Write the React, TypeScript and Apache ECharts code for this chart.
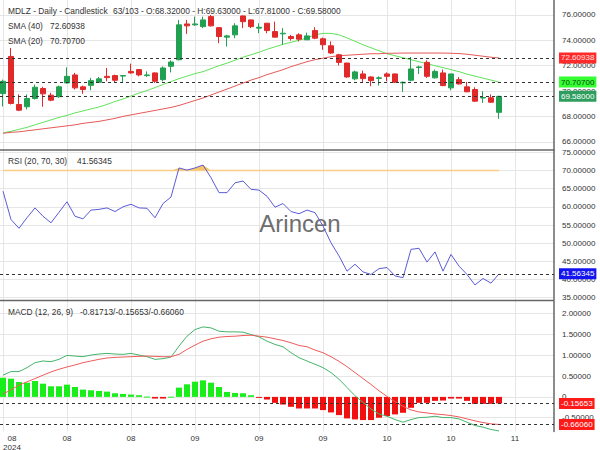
import { useEffect, useRef } from 'react';
import * as echarts from 'echarts';

const FONT = '"Liberation Sans", Arial, Helvetica, sans-serif';

const symbol = 'MDLZ';
const visibleCount = 63;
const totalCount = 103;
const xTickPositions = [0, 8, 16, 24, 32, 40, 48, 56, 64];
const xTickLabels = ['08\n2024', '08', '08', '09', '09', '09', '10', '10', '11'];
const priceTicks = [66, 68, 70, 72, 74, 76];
const rsiTicks = [35, 40, 45, 50, 55, 60, 65, 70, 75];
const macdTicks = [-0.5, 0, 0.5, 1, 1.5, 2];

// [open, high, low, close]
const ohlc: [number, number, number, number][] = [
  [69.8, 70.9, 68.78, 70.77], [72.73, 73.39, 68.94, 69.02], [68.94, 69.73, 68.42, 68.49], [68.76, 69.73, 68.55, 69.41],
  [69.41, 70.51, 69.33, 70.3], [70.2, 70.33, 68.76, 69.78], [69.67, 69.86, 69.2, 69.28], [69.55, 70.43, 69.47, 70.33],
  [70.64, 71.87, 70.59, 71.16], [71.27, 71.43, 70.12, 70.25], [70.33, 70.43, 69.78, 70.12], [70.45, 71.04, 70.06, 70.82],
  [70.69, 71.11, 70.64, 70.96], [71.16, 71.82, 70.77, 71.06], [71.22, 71.29, 70.64, 70.85], [71.18, 71.22, 70.69, 71.22],
  [71.55, 72.16, 71.37, 71.43], [71.69, 71.74, 71.16, 71.27], [71.22, 71.55, 71.11, 71.27], [71.43, 71.47, 70.64, 70.77],
  [70.9, 71.95, 70.77, 71.82], [71.95, 72.42, 71.47, 72.29], [72.47, 75.61, 72.42, 75.22], [75.29, 75.61, 74.51, 75.14],
  [75.22, 75.87, 75.14, 75.29], [75.08, 75.87, 74.96, 75.61], [75.87, 76.0, 75.08, 75.14], [75.0, 75.05, 73.78, 74.3],
  [74.25, 74.43, 73.51, 74.35], [74.43, 75.35, 74.17, 75.14], [75.92, 75.95, 74.96, 75.47], [75.61, 75.66, 74.96, 75.08],
  [74.96, 75.35, 74.56, 75.03], [75.35, 75.35, 74.56, 74.77], [74.69, 75.47, 74.25, 74.25], [74.51, 74.96, 73.65, 74.56],
  [74.3, 74.43, 73.98, 74.14], [74.43, 74.56, 73.91, 74.09], [74.04, 74.61, 74.04, 74.35], [74.77, 75.03, 74.09, 74.17],
  [74.12, 74.22, 73.25, 73.65], [73.57, 73.91, 72.92, 73.0], [72.86, 72.94, 72.02, 72.26], [72.21, 72.21, 71.04, 71.11],
  [70.96, 71.61, 70.85, 71.51], [71.35, 71.61, 70.64, 70.98], [71.11, 71.16, 70.38, 70.82], [71.0, 71.16, 70.43, 71.04],
  [71.35, 71.47, 70.77, 71.16], [71.35, 71.37, 70.64, 70.69], [70.64, 70.75, 69.94, 70.69], [70.85, 72.68, 70.77, 71.74],
  [71.86, 72.0, 71.35, 71.9], [72.26, 72.42, 71.04, 71.16], [71.04, 71.7, 70.98, 71.55], [71.43, 71.69, 70.38, 70.43],
  [70.25, 71.35, 70.06, 71.35], [70.9, 71.11, 70.51, 70.56], [70.33, 70.72, 69.91, 69.94], [70.12, 70.3, 69.15, 69.2],
  [69.45, 69.98, 69.07, 69.49], [69.47, 69.73, 69.07, 69.12], [68.32, 69.63, 67.81, 69.58],
];

const sma20 = [
  66.706, 66.824, 66.98, 67.137, 67.333, 67.529, 67.725, 67.922, 68.078, 68.275,
  68.431, 68.588, 68.745, 68.941, 69.176, 69.373, 69.608, 69.843, 70.039, 70.275,
  70.51, 70.745, 70.98, 71.176, 71.373, 71.529, 71.765, 72.0, 72.196, 72.431,
  72.667, 72.863, 73.059, 73.294, 73.49, 73.686, 73.843, 74.0, 74.196, 74.431,
  74.549, 74.549, 74.431, 74.196, 73.922, 73.647, 73.412, 73.176, 72.941, 72.784,
  72.627, 72.471, 72.314, 72.157, 72.0, 71.843, 71.686, 71.529, 71.333, 71.176,
  71.02, 70.863, 70.707,
];

const sma40 = [
  66.667, 66.745, 66.784, 66.863, 66.941, 67.02, 67.098, 67.176, 67.255, 67.333,
  67.451, 67.529, 67.608, 67.725, 67.843, 68.0, 68.118, 68.235, 68.353, 68.471,
  68.588, 68.706, 68.863, 69.059, 69.255, 69.451, 69.686, 69.922, 70.157, 70.392,
  70.627, 70.863, 71.059, 71.294, 71.49, 71.686, 71.922, 72.118, 72.314, 72.471,
  72.588, 72.706, 72.784, 72.824, 72.863, 72.902, 72.941, 72.941, 72.98, 72.98,
  72.996, 72.996, 72.996, 72.996, 72.996, 72.996, 72.98, 72.957, 72.902, 72.824,
  72.745, 72.667, 72.60938,
];

const rsi = [
  64.3, 56.5, 54.1, 57.0, 59.7, 57.4, 55.6, 58.5, 61.4, 57.4,
  56.7, 59.1, 59.3, 59.7, 58.7, 60.0, 60.7, 59.7, 59.6, 57.0,
  60.9, 62.7, 70.7, 70.1, 70.7, 71.5, 68.0, 63.9, 63.9, 66.6,
  67.1, 64.8, 64.6, 62.9, 59.9, 60.9, 58.7, 58.1, 59.1, 58.4,
  54.7, 50.1, 46.5, 42.3, 44.2, 42.1, 41.4, 43.0, 43.3, 41.0,
  40.5, 48.3, 48.6, 44.8, 47.6, 42.3, 46.9, 43.7, 41.4, 38.5,
  40.3, 39.0, 41.56345,
];
const rsiOverbought = 70;

const macdLine = [
  0.52, 0.607, 0.607, 0.702, 0.821, 0.861, 0.845, 0.901, 0.996, 0.98,
  0.964, 1.004, 1.028, 1.044, 1.028, 1.02, 1.044, 1.004, 0.964, 0.901,
  0.917, 0.956, 1.218, 1.456, 1.615, 1.679, 1.655, 1.575, 1.56, 1.56,
  1.552, 1.496, 1.44, 1.337, 1.258, 1.202, 1.06, 0.94, 0.861, 0.782,
  0.702, 0.583, 0.425, 0.226, 0.028, -0.131, -0.29, -0.409, -0.464, -0.544,
  -0.607, -0.544, -0.496, -0.488, -0.464, -0.496, -0.496, -0.528, -0.607, -0.687,
  -0.726, -0.782, -0.81713,
];

const signalLine = [
  0.067, 0.171, 0.282, 0.361, 0.44, 0.52, 0.599, 0.663, 0.718, 0.766,
  0.821, 0.861, 0.901, 0.933, 0.948, 0.956, 0.964, 0.972, 0.98, 0.972,
  0.964, 0.964, 1.02, 1.139, 1.242, 1.337, 1.393, 1.433, 1.448, 1.456,
  1.472, 1.48, 1.456, 1.433, 1.393, 1.353, 1.298, 1.234, 1.202, 1.123,
  1.06, 0.964, 0.853, 0.726, 0.583, 0.44, 0.298, 0.147, 0.012, -0.115,
  -0.226, -0.313, -0.361, -0.385, -0.409, -0.425, -0.448, -0.48, -0.528, -0.575,
  -0.615, -0.647, -0.6606,
];

const histogram = [
  0.46, 0.437, 0.357, 0.341, 0.381, 0.317, 0.254, 0.254, 0.294, 0.238,
  0.175, 0.159, 0.143, 0.127, 0.087, 0.071, 0.056, 0.04, 0.008, -0.04,
  -0.04, 0.006, 0.222, 0.302, 0.365, 0.397, 0.341, 0.238, 0.119, 0.095,
  0.087, 0.04, -0.015, -0.063, -0.143, -0.183, -0.238, -0.278, -0.278, -0.278,
  -0.317, -0.373, -0.437, -0.516, -0.54, -0.556, -0.556, -0.5, -0.46, -0.42,
  -0.381, -0.262, -0.143, -0.143, -0.095, -0.087, -0.04, -0.04, -0.095, -0.167,
  -0.167, -0.167, -0.15653,
];

const UP = '#22a052';
const DOWN = '#e02a2a';
const HIST_UP = '#1aee1a';
const HIST_DOWN = '#f01010';
const GRID_LINE = '#e6e6e6';
const TEXT = '#333';

const fmt5 = (v: number) => v.toFixed(5);

function buildOption() {
  const last = ohlc[ohlc.length - 1];
  const n = ohlc.length;
  const xy = (arr: number[]) => arr.map((v, k) => [k, v]);

  const grids = [
    { left: 0, right: 46, top: 0, height: 150, outerBoundsMode: 'none', containLabel: false },
    { left: 0, right: 46, top: 150, height: 150, outerBoundsMode: 'none', containLabel: false },
    { left: 0, right: 46, top: 301, height: 130.5, outerBoundsMode: 'none', containLabel: false },
  ];

  const xAxes = grids.map((_, i) => ({
    type: 'value',
    gridIndex: i,
    min: -0.375,
    max: 68.875,
    axisLine: { show: false, onZero: false },
    axisTick: { show: false, customValues: xTickPositions },
    splitLine: { show: true, lineStyle: { color: GRID_LINE, width: 1 } },
    axisLabel: {
      show: i === 2,
      customValues: xTickPositions,
      fontSize: 8,
      lineHeight: 9,
      color: TEXT,
      fontFamily: FONT,
      margin: 2,
      formatter: (v: number) => {
        const idx = xTickPositions.indexOf(Math.round(v));
        if (idx < 0) return '';
        const s = xTickLabels[idx];
        if (idx === 0) return s.split('\n').map((t) => `{first|${t}}`).join('\n');
        return s;
      },
      rich: {
        first: { padding: [0, 0, 0, 18], fontSize: 8, lineHeight: 9, color: TEXT, fontFamily: FONT },
      },
    },
  }));

  const yBase = (i: number, min: number, max: number, ticks: number[], formatter: (v: number) => string) => ({
    type: 'value',
    gridIndex: i,
    position: 'right',
    min,
    max,
    axisLine: { show: true, onZero: false, lineStyle: { color: '#666', width: 1.5 } },
    axisTick: { show: false, customValues: ticks },
    splitLine: { show: true, lineStyle: { color: GRID_LINE, width: 1 } },
    axisLabel: {
      customValues: ticks,
      showMinLabel: true,
      showMaxLabel: true,
      fontSize: 8,
      color: TEXT,
      fontFamily: FONT,
      margin: 8,
      formatter,
    },
  });

  const yAxes = [
    yBase(0, 65.35, 77.18, priceTicks, fmt5),
    yBase(1, 34.37, 75.63, rsiTicks, fmt5),
    yBase(2, -0.83, 2.3, macdTicks, (v) => (Math.abs(v) < 1e-9 ? '0' : fmt5(v))),
  ];

  const tag = (value: number, bg: string, fg: string) => ({
    yAxis: value,
    label: {
      show: true,
      position: 'end',
      distance: 5,
      formatter: () => fmt5(value),
      backgroundColor: bg,
      color: fg,
      fontSize: 8,
      fontFamily: FONT,
      padding: [2, 2, 1, 2],
    },
  });

  const dashed = { type: [3, 3], color: '#333', width: 1 };

  const series: any[] = [
    {
      type: 'candlestick',
      xAxisIndex: 0,
      yAxisIndex: 0,
      barWidth: 6,
      clip: false,
      data: ohlc.map(([o, h, l, c], k) => [k, o, c, l, h]),
      itemStyle: { color: UP, color0: DOWN, borderColor: UP, borderColor0: DOWN, borderWidth: 1 },
      markLine: {
        silent: true,
        symbol: 'none',
        animation: false,
        lineStyle: dashed,
        data: [
          tag(sma40[n - 1], '#ff2a2a', '#ffe0e0'),
          tag(sma20[n - 1], '#33ff33', '#114411'),
          tag(last[3], '#2e9e5e', '#ffffff'),
        ],
      },
      z: 3,
    },
    {
      type: 'line', xAxisIndex: 0, yAxisIndex: 0, data: xy(sma20), symbol: 'none',
      lineStyle: { color: '#62e25a', width: 1 }, z: 2,
    },
    {
      type: 'line', xAxisIndex: 0, yAxisIndex: 0, data: xy(sma40), symbol: 'none',
      lineStyle: { color: '#e65a5a', width: 1 }, z: 2,
    },
    {
      type: 'line', xAxisIndex: 1, yAxisIndex: 1, data: rsi.map((v, k) => [k, Math.max(v, rsiOverbought)]), symbol: 'none',
      lineStyle: { width: 0, opacity: 0 }, areaStyle: { origin: rsiOverbought, color: '#f6c15e', opacity: 0.95 }, z: 1,
    },
    {
      type: 'line', xAxisIndex: 1, yAxisIndex: 1, data: rsi.map((_, k) => [k, rsiOverbought]), symbol: 'none',
      lineStyle: { color: '#f8cd85', width: 1.5 }, z: 2,
    },
    {
      type: 'line', xAxisIndex: 1, yAxisIndex: 1, data: xy(rsi), symbol: 'none',
      lineStyle: { color: '#5b5bd8', width: 1 }, z: 3,
      markLine: {
        silent: true, symbol: 'none', animation: false, lineStyle: dashed,
        data: [tag(rsi[n - 1], '#1414ee', '#ffffff')],
      },
    },
    {
      type: 'custom', xAxisIndex: 2, yAxisIndex: 2, data: xy(histogram), z: 2,
      encode: { x: 0, y: 1 },
      renderItem: (_params: any, api: any) => {
        const k = api.value(0);
        const v = api.value(1);
        const p0 = api.coord([k, 0]);
        const p1 = api.coord([k, v]);
        const w = 6;
        return {
          type: 'rect',
          shape: { x: p0[0] - w / 2, y: Math.min(p0[1], p1[1]), width: w, height: Math.max(1, Math.abs(p1[1] - p0[1])) },
          style: { fill: v >= 0 ? HIST_UP : HIST_DOWN },
        };
      },
      markLine: {
        silent: true, symbol: 'none', animation: false, lineStyle: dashed,
        data: [tag(histogram[n - 1], '#ff1a1a', '#ffffff'), tag(signalLine[n - 1], '#ff1a1a', '#ffffff')],
      },
    },
    {
      type: 'line', xAxisIndex: 2, yAxisIndex: 2, data: xy(macdLine), symbol: 'none',
      lineStyle: { color: '#45b46a', width: 1 }, z: 3,
    },
    {
      type: 'line', xAxisIndex: 2, yAxisIndex: 2, data: xy(signalLine), symbol: 'none',
      lineStyle: { color: '#ee5c5c', width: 1 }, z: 3,
    },
  ];

  const txt = (text: string, x: number, y: number) => ({
    type: 'text', x, y, silent: true, z: 10,
    style: { text, fontSize: 8.4, fontFamily: FONT, fill: TEXT, verticalAlign: 'middle' },
  });

  const graphic = [
    {
      type: 'text', x: 300, y: 223, silent: true, z: 1,
      style: { text: 'Arincen', fontSize: 24, fontFamily: FONT, fill: '#6e6e6e', align: 'center', verticalAlign: 'middle' },
    },
    txt(`${symbol} - Daily - Candlestick`, 8, 11),
    txt(`${visibleCount}/${totalCount} - O:${fmt5(last[0])} - H:${fmt5(last[1])} - L:${fmt5(last[2])} - C:${fmt5(last[3])}`, 113, 11),
    txt('SMA (40)', 8, 26),
    txt(fmt5(sma40[n - 1]), 50, 26),
    txt('SMA (20)', 8, 41),
    txt(fmt5(sma20[n - 1]), 50, 41),
    txt('RSI (20, 70, 30)', 8, 161),
    txt(fmt5(rsi[n - 1]), 77, 161),
    txt('MACD (12, 26, 9)', 8, 312),
    txt(`${fmt5(macdLine[n - 1])}/${fmt5(histogram[n - 1])}/${fmt5(signalLine[n - 1])}`, 80, 312),
    { type: 'line', silent: true, z: 10, shape: { x1: 0, y1: 150, x2: 554, y2: 150 }, style: { stroke: '#666', lineWidth: 1.5 } },
    { type: 'line', silent: true, z: 10, shape: { x1: 0, y1: 300.5, x2: 554, y2: 300.5 }, style: { stroke: '#666', lineWidth: 1.5 } },
  ];

  return {
    animation: false,
    backgroundColor: '#fff',
    textStyle: { fontFamily: FONT },
    grid: grids,
    xAxis: xAxes,
    yAxis: yAxes,
    series,
    graphic,
  };
}

export default function App() {
  const ref = useRef<HTMLDivElement>(null);
  useEffect(() => {
    document.body.style.margin = '0';
    const chart = echarts.init(ref.current!, null, { renderer: 'svg' });
    chart.setOption(buildOption() as any);
    return () => chart.dispose();
  }, []);
  return <div ref={ref} style={{ width: 600, height: 450 }} />;
}
